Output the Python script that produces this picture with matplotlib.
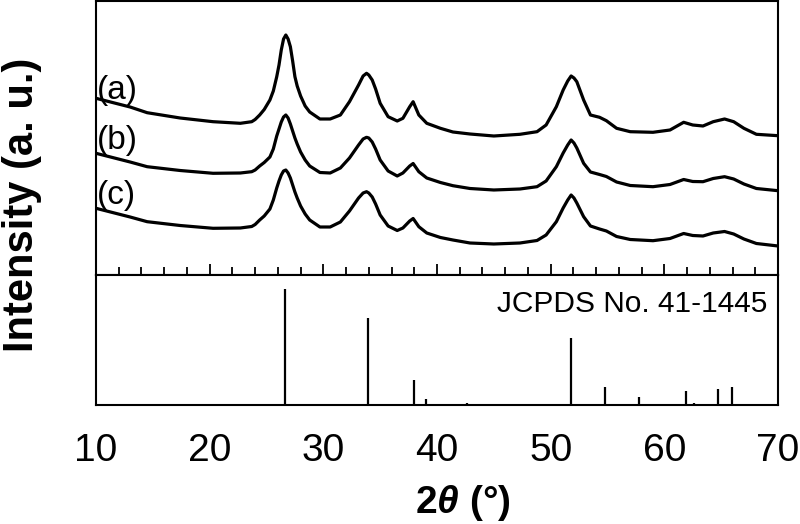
import matplotlib.pyplot as plt
import numpy as np

plt.rcParams['font.family'] = ['Liberation Sans', 'DejaVu Sans']
plt.rcParams['mathtext.fontset'] = 'custom'
plt.rcParams['mathtext.rm'] = 'Liberation Sans'
plt.rcParams['mathtext.bf'] = 'Liberation Sans:bold'
plt.rcParams['mathtext.it'] = 'Liberation Sans:italic'
plt.rcParams['mathtext.bfit'] = 'Liberation Sans:italic:bold'

# 2theta grid
two_theta = [10.0, 13.0, 14.5, 17.4, 20.3, 22.7,
             23.7, 24.0, 24.4, 24.8, 25.3, 25.6, 25.9, 26.1, 26.3, 26.5, 26.7, 26.9,
             27.1, 27.3, 27.5, 27.7, 28.0, 28.4, 28.8,
             29.7, 30.6, 31.5, 32.3, 33.1, 33.5, 33.8, 34.0, 34.3, 34.6, 35.0,
             35.7, 36.5, 37.0, 37.6, 37.9, 38.4, 39.1, 40.3, 41.4, 42.9, 45.0, 47.3,
             48.8, 49.6,
             50.5, 51.1, 51.5, 51.8, 52.05, 52.3, 52.9,
             53.5, 54.3, 54.9, 55.8, 57.0, 59.0, 60.5, 61.7, 62.5, 63.4, 64.3, 65.3,
             66.1, 67.0, 68.1, 70.0]

# patterns (a), (b), (c), already stacked (a.u.)
int_a = [176.7, 168, 162.3, 157, 153.3, 151.7,
         153.3, 155.5, 160, 165.5, 175, 184, 198.3, 210, 225, 236, 240, 236,
         228.3, 214, 198.3, 189, 179, 169, 163,
         156, 156, 160, 173.3, 190, 199, 201.7, 200, 195, 186, 171.7,
         158.3, 154, 156.7, 168.3, 173.3, 160, 151.7, 146.7, 143, 141, 139, 140.7,
         143.3, 150,
         168.3, 185, 194, 199, 197, 193.3, 175,
         160, 157.7, 154.3, 146.7, 143.3, 142.7, 145, 152.7, 150, 149, 153.3, 156,
         153.3, 146.7, 140.7, 139.3]
int_b = [121.7, 113, 108.3, 104.5, 101.7, 102,
         103.3, 105, 109, 112.5, 118, 126, 139, 146, 153, 158, 160, 157,
         151, 144, 137, 131, 123, 115, 109,
         102.5, 102, 107, 117, 130, 136, 137.7, 137, 133, 126, 115,
         104, 99, 102, 109, 111.5, 103.3, 97, 92.5, 89.3, 86.5, 85, 86,
         88.3, 94,
         108.3, 122, 130, 135, 132, 127, 111.7,
         103, 100.5, 98.5, 93, 89.5, 88.3, 90.5, 95.5, 93.5, 93.3, 96.5, 98.3,
         96, 91, 86.5, 84.3]
int_c = [66.7, 58, 53.3, 49.5, 46.7, 47,
         48.5, 50.5, 55, 59, 66, 75, 87, 94, 100, 104, 105, 102,
         97, 90, 83, 77, 69, 61, 55,
         48, 48, 53, 64, 77, 82, 83.3, 82, 78, 71, 60,
         49, 44.5, 47, 54, 56.5, 48.3, 42, 37.5, 35, 32, 31, 32,
         34.5, 40,
         53.3, 67, 75, 80, 77, 72, 58.3,
         49, 46, 44, 38.5, 35.5, 34.3, 36.5, 41.5, 39.5, 39, 42, 43.5,
         41, 36, 31.5, 29]
labels = ['(a)', '(b)', '(c)']

# JCPDS No. 41-1445 reference lines
ref_pos = [26.6, 33.9, 37.95, 39.0, 42.6, 51.8, 54.75, 57.8, 61.9, 62.6, 64.7, 65.95, 69.2]
ref_int = [100, 75.5, 22, 5, 2, 57.6, 15.3, 7.2, 12.4, 2, 13.6, 15.3, 1]

fig = plt.figure(figsize=(8, 5.24), dpi=100)
ax1 = fig.add_axes([0.12, 0.4752, 0.8525, 0.5229])
ax2 = fig.add_axes([0.12, 0.2271, 0.8525, 0.2481], sharex=ax1)

for series in [int_a, int_b, int_c]:
    ax1.plot(two_theta, series, color='black', linewidth=2.3, solid_joinstyle='round')

label_y = [0.675, 0.49, 0.29]
for lab, ly in zip(labels, label_y):
    ax1.text(0.002, ly, lab, transform=ax1.transAxes, ha='left', va='center', fontsize=24)

ax1.set_ylim(0, 274)
ax1.set_xlim(10, 70)
ax1.set_yticks([])
ax1.set_xticks(np.arange(10, 71, 10))
ax1.set_xticks(np.arange(10, 71, 2), minor=True)
ax1.tick_params(axis='x', which='both', direction='in', labelbottom=False, width=1.3)
ax1.tick_params(axis='x', which='major', length=8)
ax1.tick_params(axis='x', which='minor', length=5.5)

ax2.vlines(ref_pos, 0, ref_int, color='black', linewidth=1.6)
ax2.set_ylim(0, 112.4)
ax2.set_yticks([])
ax2.tick_params(axis='x', which='both', length=0, labelsize=28, pad=20)
ax2.text(0.985, 0.718, 'JCPDS No. 41-1445', transform=ax2.transAxes,
         ha='right', va='baseline', fontsize=21.5)

for ax in [ax1, ax2]:
    for sp in ax.spines.values():
        sp.set_linewidth(1.5)

fig.text(22 / 800, 1 - 205 / 524, 'Intensity (a. u.)', rotation=90,
         ha='center', va='center', fontsize=30, fontweight='bold')
fig.text(463 / 800, 1 - 503 / 524, r'$\boldsymbol{2\theta}$ (°)',
         ha='center', va='center', fontsize=28, fontweight='bold')

fig.savefig('out.png', dpi=100)
